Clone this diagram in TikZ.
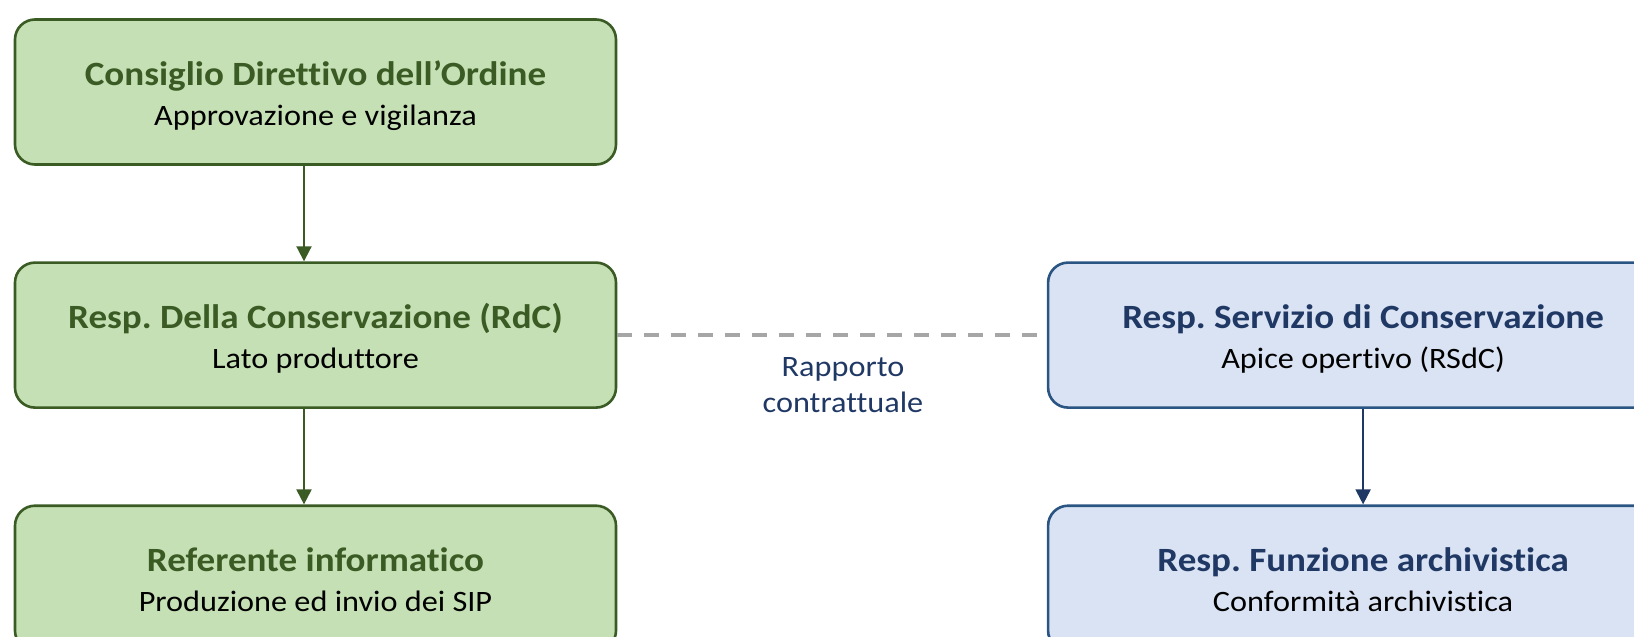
\documentclass[tikz,border=0pt]{standalone}
\usepackage{fontspec}
\setmainfont{Carlito}[FakeStretch=1.09, Ligatures=NoCommon]
\usetikzlibrary{positioning,arrows.meta}
\usepackage{xcolor}
\frenchspacing

\definecolor{gfill}{HTML}{C5E0B4}
\definecolor{gborder}{HTML}{3B5B24}
\definecolor{bfill}{HTML}{DAE3F3}
\definecolor{bborder}{HTML}{2A5583}
\definecolor{btext}{HTML}{203864}
\definecolor{dashgray}{HTML}{A6A6A6}

% title line and subtitle line of a box
\newcommand{\gtitle}[1]{\rule{0pt}{18pt}{\bfseries\fontsize{17}{20}\selectfont\color{gborder}#1}}
\newcommand{\btitle}[1]{\rule{0pt}{18pt}{\bfseries\fontsize{17}{20}\selectfont\color{btext}#1}}
\newcommand{\subline}[1]{#1\rule[-5pt]{0pt}{5pt}}

\begin{document}
\begin{tikzpicture}[
      x=1pt, y=1pt,
      node distance=47.75pt and 214.75pt, % gaps between the boxes
      greenbox/.style={rectangle, draw=gborder, line width=1.3pt, fill=gfill, rounded corners=10pt, minimum height=72.5pt, minimum width=300.5pt, align=center, font=\fontsize{14.8}{20}\selectfont},
      bluebox/.style={rectangle, draw=bborder, line width=1.3pt, fill=bfill, rounded corners=10pt, minimum height=72.5pt, minimum width=315pt, align=center, font=\fontsize{14.8}{20}\selectfont},
      gline/.style={draw=gborder, line width=1pt, -{Triangle[length=7.5pt, width=7.5pt]}},
      bline/.style={draw=btext, line width=1pt, -{Triangle[length=7.5pt, width=7.5pt]}},
      dline/.style={draw=dashgray, line width=2pt, dash pattern=on 7.5pt off 6pt}
  ]
      \useasboundingbox (0,0) rectangle (817,-318.5);
      \clip (0,0) rectangle (817,-318.5);

      % Left column - producer side
      \node (consiglio) [greenbox] at (157.75,-46) {\gtitle{Consiglio Direttivo dell'Ordine}\\\subline{Approvazione e vigilanza}};
      \node (rdc) [greenbox, below=of consiglio] {\gtitle{Resp. Della Conservazione (RdC)}\\\subline{Lato produttore}};
      \node (referente) [greenbox, below=of rdc] {\gtitle{Referente informatico}\\\subline{Produzione ed invio dei SIP}};

      % Right column - service side
      \node (rsdc) [bluebox, right=of rdc] {\btitle{Resp. Servizio di Conservazione}\\\subline{Apice opertivo (RSdC)}};
      \node (funzione) [bluebox, below=of rsdc] {\btitle{Resp. Funzione archivistica}\\\subline{Conformità archivistica}};

      \node (rapporto) [align=center, text=btext, font=\fontsize{14.8}{18}\selectfont] at (421.5,-192.5) {Rapporto\\contrattuale};

      % Connections
      \path [gline] ([xshift=-5.75pt]consiglio.south) -- ([xshift=-5.75pt]rdc.north);
      \path [gline] ([xshift=-5.75pt]rdc.south) -- ([xshift=-5.75pt]referente.north);
      \path [bline] (rsdc) -- (funzione);
      \path [dline] (rdc) -- (rsdc);
  \end{tikzpicture}
\end{document}
